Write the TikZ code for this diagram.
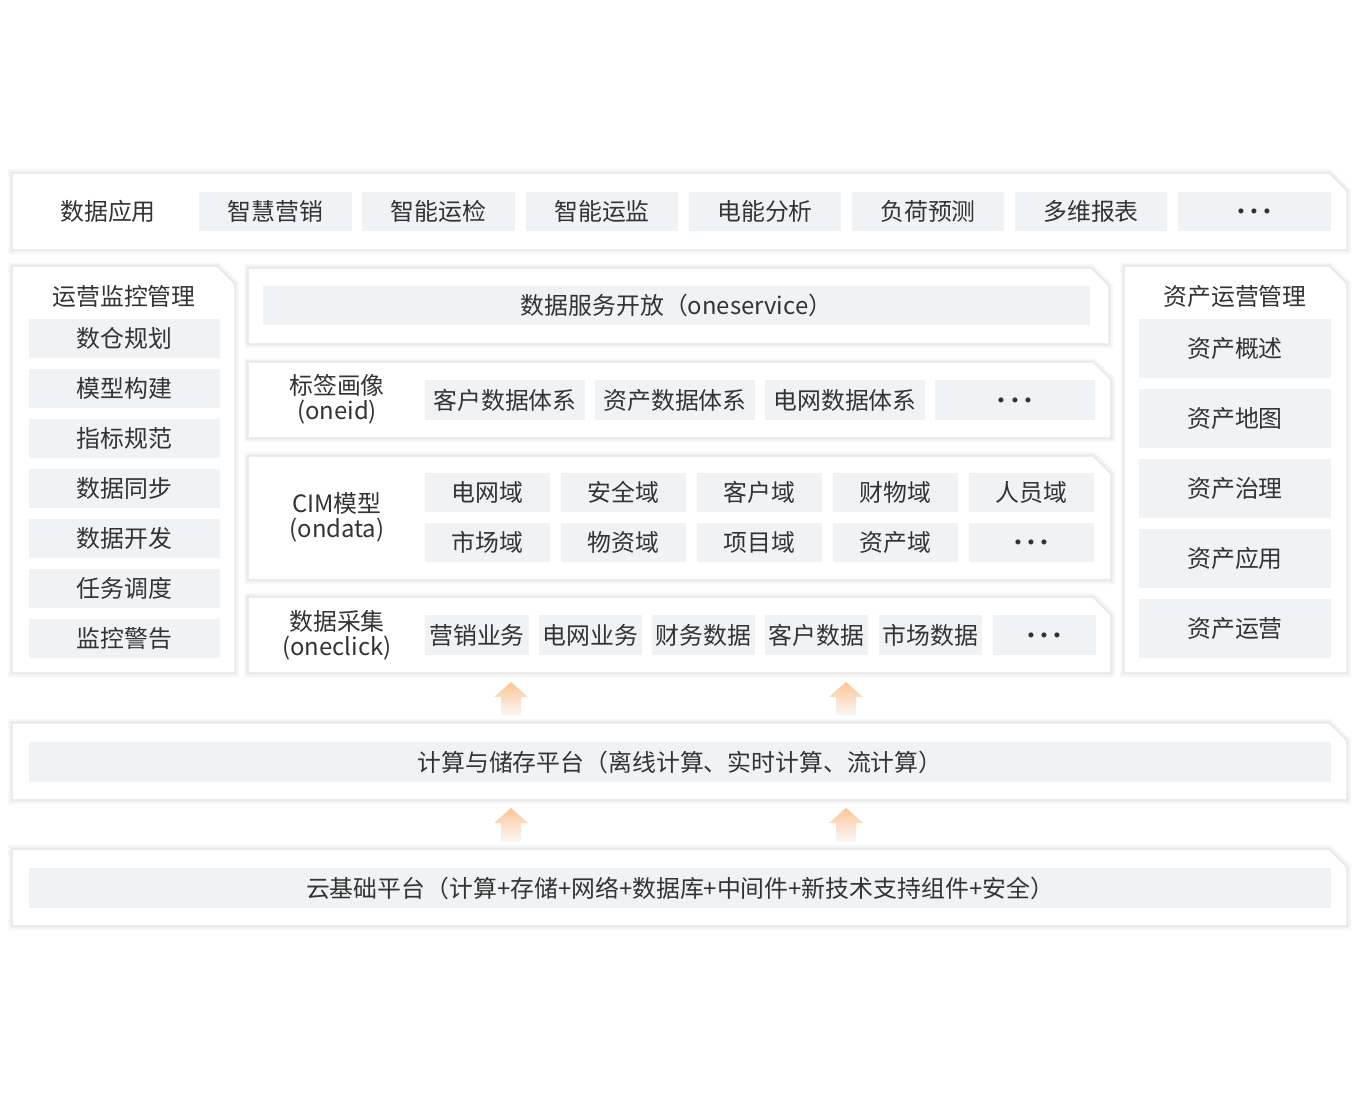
\documentclass[tikz,border=0pt]{standalone}
\usepackage{fontspec}
\setmainfont{Noto Sans CJK SC}
\definecolor{txt}{HTML}{333333}
\definecolor{boxg}{HTML}{F0F3F5}
\definecolor{arr}{HTML}{FDC597}
\tikzset{
  x=0.75pt, y=-0.75pt,
  lbl/.style={text=txt, font=\fontsize{17.9}{19}\selectfont, inner sep=0pt, align=center},
  ibox/.style={lbl, fill=boxg},
  sh1/.style={draw=black!3, line width=6pt, line join=miter},
  sh2/.style={draw=black!6, line width=3pt, line join=miter},
  sh3/.style={draw=black!10, line width=0.8pt, line join=miter, fill=white},
}
\newcommand\mydots{\raisebox{-2.4pt}[\height][\depth]{\makebox[0.55em]{·}\makebox[0.55em]{·}\makebox[0.55em]{·}}}
\newcommand\mypanel[4]{%
  \foreach \st in {sh1,sh2,sh3}{%
    \path[\st] (#1,#2) -- (#3-18,#2) -- (#3,#2+18) -- (#3,#4) -- (#1,#4) -- cycle;}%
}
\newcommand\bx[6]{%
  \node[ibox, minimum width=#4*0.75pt, minimum height=#5*0.75pt] (#1) at (#2,#3) {#6};}
\newcommand\myarrow[3]{%
  \shade[top color=arr, middle color=arr!85, bottom color=black!3]
    (#2,#3) -- (#2+17,#3+15) -- (#2+10,#3+15) -- (#2+10,#3+33) -- (#2-10,#3+33)
    -- (#2-10,#3+15) -- (#2-17,#3+15) -- cycle;
  \coordinate (#1) at (#2,#3);}
\begin{document}
\begin{tikzpicture}
\fill[white] (0,0) rectangle (1360,1100);
\useasboundingbox (0,0) rectangle (1360,1100);

% ---- top panel
\mypanel{12}{173}{1347}{250}
\node[lbl] (app) at (108,211) {数据应用};
\bx{a1}{275.5}{211.5}{153}{39}{智慧营销}
\bx{a2}{438.5}{211.5}{153}{39}{智能运检}
\bx{a3}{602}{211.5}{152}{39}{智能运监}
\bx{a4}{765}{211.5}{152}{39}{电能分析}
\bx{a5}{928}{211.5}{152}{39}{负荷预测}
\bx{a6}{1091}{211.5}{152}{39}{多维报表}
\bx{a7}{1254.5}{211.5}{153}{39}{\mydots}

% ---- left panel
\mypanel{12}{266}{235}{673}
\node[lbl] (lt) at (124,296) {运营监控管理};
\bx{l1}{124.5}{338.5}{191}{39}{数仓规划}
\bx{l2}{124.5}{388.5}{191}{39}{模型构建}
\bx{l3}{124.5}{438.5}{191}{39}{指标规范}
\bx{l4}{124.5}{488.5}{191}{39}{数据同步}
\bx{l5}{124.5}{538.5}{191}{39}{数据开发}
\bx{l6}{124.5}{588.5}{191}{39}{任务调度}
\bx{l7}{124.5}{638.5}{191}{39}{监控警告}

% ---- right panel
\mypanel{1124}{266}{1347}{673}
\node[lbl] (rt) at (1235,296) {资产运营管理};
\bx{r1}{1235}{348.5}{192}{59}{资产概述}
\bx{r2}{1235}{418.5}{192}{59}{资产地图}
\bx{r3}{1235}{488.5}{192}{59}{资产治理}
\bx{r4}{1235}{558.5}{192}{59}{资产应用}
\bx{r5}{1235}{628.5}{192}{59}{资产运营}

% ---- center: oneservice
\mypanel{248}{268}{1109}{344}
\bx{s1}{676.5}{305.5}{827}{39}{数据服务开放（oneservice）}

% ---- center: oneid
\mypanel{248}{362}{1111}{438}
\node[lbl] (idl) at (337,399) {标签画像\\(oneid)};
\bx{i1}{505}{400}{160}{40}{客户数据体系}
\bx{i2}{675}{400}{160}{40}{资产数据体系}
\bx{i3}{845}{400}{160}{40}{电网数据体系}
\bx{i4}{1015}{400}{160}{40}{\mydots}

% ---- center: ondata
\mypanel{248}{456}{1111}{580}
\node[lbl] (cim) at (337,517) {CIM模型\\(ondata)};
\bx{c1}{487.5}{492.5}{125}{39}{电网域}
\bx{c2}{623.5}{492.5}{125}{39}{安全域}
\bx{c3}{759.5}{492.5}{125}{39}{客户域}
\bx{c4}{895.5}{492.5}{125}{39}{财物域}
\bx{c5}{1031.5}{492.5}{125}{39}{人员域}
\bx{c6}{487.5}{542.5}{125}{39}{市场域}
\bx{c7}{623.5}{542.5}{125}{39}{物资域}
\bx{c8}{759.5}{542.5}{125}{39}{项目域}
\bx{c9}{895.5}{542.5}{125}{39}{资产域}
\bx{c10}{1031.5}{542.5}{125}{39}{\mydots}

% ---- center: oneclick
\mypanel{248}{597}{1111}{673}
\node[lbl] (ocl) at (337,635) {数据采集\\(oneclick)};
\bx{o1}{477}{635}{104}{40}{营销业务}
\bx{o2}{590.5}{635}{103}{40}{电网业务}
\bx{o3}{703.5}{635}{103}{40}{财务数据}
\bx{o4}{816.5}{635}{103}{40}{客户数据}
\bx{o5}{930.5}{635}{103}{40}{市场数据}
\bx{o6}{1044.5}{635}{103}{40}{\mydots}

% ---- arrows
\myarrow{ar1}{511}{682}
\myarrow{ar2}{846}{682}

% ---- compute
\mypanel{12}{723}{1347}{800}
\bx{cp}{680}{762}{1302}{40}{计算与储存平台（离线计算、实时计算、流计算）}

% ---- arrows
\myarrow{ar3}{511}{808}
\myarrow{ar4}{846}{808}

% ---- cloud
\mypanel{12}{849}{1347}{926}
\bx{cl}{680}{888}{1302}{40}{云基础平台（计算+存储+网络+数据库+中间件+新技术支持组件+安全）}
\end{tikzpicture}
\end{document}
